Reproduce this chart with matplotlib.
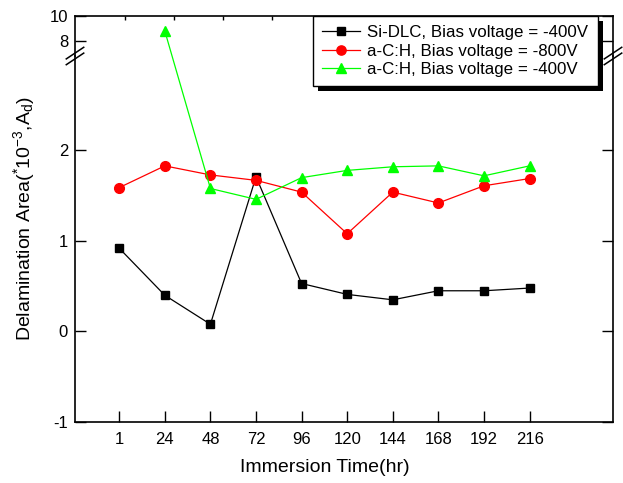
import matplotlib
matplotlib.use("Agg")
import matplotlib.pyplot as plt
from matplotlib.patches import ConnectionPatch, Rectangle
from matplotlib.lines import Line2D

plt.rcParams['font.family'] = ['Liberation Sans', 'DejaVu Sans']
plt.rcParams['axes.unicode_minus'] = False
plt.rcParams['mathtext.fontset'] = 'custom'
plt.rcParams['mathtext.rm'] = 'Liberation Sans'
plt.rcParams['mathtext.it'] = 'Liberation Sans'
plt.rcParams['mathtext.default'] = 'regular'

categories = ["1", "24", "48", "72", "96", "120", "144", "168", "192", "216"]
si_dlc_400 = [0.92, 0.40, 0.08, 1.71, 0.53, 0.41, 0.35, 0.45, 0.45, 0.48]
ach_800 = [1.59, 1.83, 1.73, 1.67, 1.54, 1.08, 1.54, 1.42, 1.61, 1.69]
ach_400 = [None, 8.8, 1.58, 1.46, 1.70, 1.78, 1.82, 1.83, 1.72, 1.83]
labels = ["Si-DLC, Bias voltage = -400V", "a-C:H, Bias voltage = -800V", "a-C:H, Bias voltage = -400V"]
colors = ["#000000", "#FF0000", "#00FF00"]
markers = ["s", "o", "^"]
msizes = [6.2, 7, 7.5]

W, H = 623, 483
fig = plt.figure(figsize=(W / 100, H / 100), dpi=100)

L, R = 75 / W, 613 / W
yb, ybrk, yt = 1 - 422 / H, 1 - 56 / H, 1 - 16 / H
ax = fig.add_axes([L, yb, R - L, ybrk - yb])
axt = fig.add_axes([L, ybrk, R - L, yt - ybrk])

x = list(range(len(categories)))
xlim = (-0.97, 10.83)

# lower axes
for vals, c, m, ms in zip([si_dlc_400, ach_800], colors[:2], markers[:2], msizes[:2]):
    ax.plot(x, vals, color=c, marker=m, ms=ms, lw=0.9, mec=c)
gx = [i for i, v in enumerate(ach_400) if v is not None and v < 5]
gy = [ach_400[i] for i in gx]
ax.plot(gx, gy, color=colors[2], marker=markers[2], ms=msizes[2], lw=0.9, mec=colors[2])
ax.set_xlim(*xlim)
ax.set_ylim(-1, 3.044)
ax.set_xticks(x)
ax.set_xticklabels(categories)
ax.set_yticks([-1, 0, 1, 2])
ax.spines['top'].set_visible(False)
ax.tick_params(direction='in', length=8, width=1, labelsize=12, right=True, top=False, pad=5)
ax.tick_params(axis='x', pad=7)
for s in ax.spines.values():
    s.set_linewidth(1.2)

# upper axes
ux = [i for i, v in enumerate(ach_400) if v is not None and v >= 5]
uy = [ach_400[i] for i in ux]
axt.plot(ux, uy, color=colors[2], marker=markers[2], ms=msizes[2], lw=0.9, mec=colors[2], clip_on=False)
axt.set_xlim(*xlim)
axt.set_ylim(6.8, 10)
axt.set_yticks([8, 10])
axt.set_xticks([0.125 + i * 1.077 for i in range(10)])
axt.spines['bottom'].set_visible(False)
axt.tick_params(direction='in', length=8, width=1, labelsize=12, right=True, top=True,
                bottom=False, labelbottom=False, pad=5)
axt.tick_params(axis='x', length=3)
axt.patch.set_alpha(0)
for s in axt.spines.values():
    s.set_linewidth(1.2)

# connecting segment across the break
i0 = ux[0]
con = ConnectionPatch(xyA=(i0, ach_400[i0]), coordsA=axt.transData,
                      xyB=(i0 + 1, ach_400[i0 + 1]), coordsB=ax.transData,
                      color=colors[2], lw=0.9)
fig.add_artist(con)

# break marks
for xa in (0, 1):
    for dy in (-0.006, 0.006):
        fig.add_artist(Line2D([xa * (R - L) + L - 0.014, xa * (R - L) + L + 0.014],
                              [ybrk + dy - 0.012, ybrk + dy + 0.012],
                              transform=fig.transFigure, color='black', lw=1.1))

# legend
handles = [Line2D([], [], color=c, marker=m, ms=ms * 0.95, lw=0.9, mec=c)
           for c, m, ms in zip(colors, markers, msizes)]
leg = fig.legend(handles, labels, loc='upper left', bbox_to_anchor=(313 / W, yt),
                 bbox_transform=fig.transFigure, borderaxespad=0, fontsize=12.2,
                 frameon=True, fancybox=False, framealpha=1, edgecolor='black',
                 handlelength=2.2, handletextpad=0.45, labelspacing=0.2, borderpad=0.55)
leg.get_frame().set_linewidth(1.0)
leg.set_zorder(6)

fig.canvas.draw()
bb = leg.get_window_extent()
shadow = Rectangle((bb.x0 + 5, bb.y0 - 5), bb.width, bb.height, transform=None,
                   facecolor='black', edgecolor='none', zorder=5.5)
fig.add_artist(shadow)

fig.text(24 / W, 1 - 219 / H, "Delamination Area($^{*}$10$^{-3}$,A$_{d}$)", rotation=90,
         ha='center', va='center', fontsize=14)
fig.text(325 / W, 1 - 467 / H, "Immersion Time(hr)", ha='center', va='center', fontsize=14)

fig.savefig("out.png", dpi=100)
